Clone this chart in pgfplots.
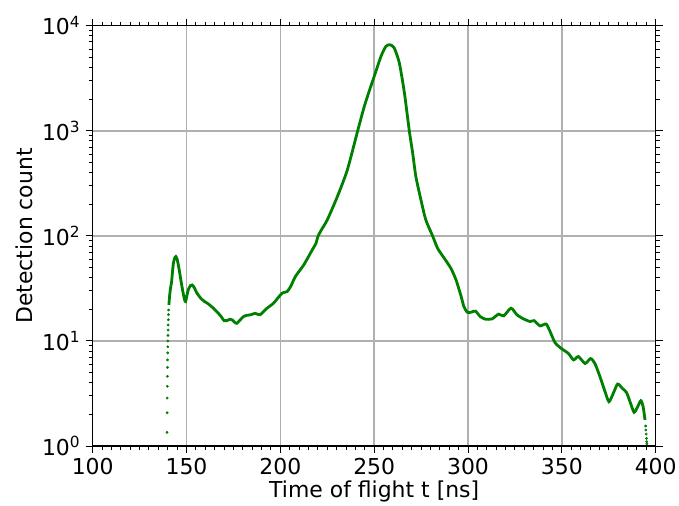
\documentclass[border=0pt]{standalone}
\usepackage{fontspec}
\setmainfont{DejaVu Sans}
\usepackage{pgfplots}
\pgfplotsset{compat=1.18}
\definecolor{mplgreen}{HTML}{008000}
\definecolor{gridgray}{HTML}{B0B0B0}
\begin{document}
\begin{tikzpicture}
\begin{axis}[
  scale only axis, width=563bp, height=420.3bp,
  xmin=100, xmax=400, ymode=log, ymin=1, ymax=10000,
  xtick={100,150,...,400}, minor x tick num=9,
  ytick={1,10,100,1000,10000},
  minor ytick={2,3,4,5,6,7,8,9,20,30,40,50,60,70,80,90,200,300,400,500,600,700,800,900,2000,3000,4000,5000,6000,7000,8000,9000},
  yticklabels={10\textsuperscript{0},10\textsuperscript{1},10\textsuperscript{2},10\textsuperscript{3},10\textsuperscript{4}},
  /pgf/number format/assume math mode=true,
  tick align=outside,
  major tick length=7bp, minor tick length=4bp,
  grid=major, major grid style={gridgray, line width=1.5bp},
  minor grid style={draw=none},
  axis line style={line width=1.2bp},
  every tick/.style={black, line width=1bp},
  tick label style={font=\fontsize{22}{26}\selectfont},
  label style={font=\fontsize{22}{26}\selectfont},
  xticklabel style={yshift=-2bp},
  yticklabel style={xshift=-2bp},
  xlabel={Time of flight t [ns]}, ylabel={Detection count},
  xlabel style={at={(axis description cs:0.5,-0.1237)}, anchor=base},
  ylabel style={at={(axis description cs:-0.1217,0.5)}, anchor=center, rotate=0},
  xticklabel style={/pgf/number format/set thousands separator={}},
]
\addplot[only marks, mark=*, mark size=1.2bp, mplgreen, mark options={draw=none, fill=mplgreen}] coordinates {
(139.6,1.35) (139.65,2.07) (139.7,2.86) (139.75,3.7) (139.8,4.6) (139.85,5.6)
(139.9,6.6) (139.95,7.7) (140.0,8.8) (140.05,10.0) (140.1,11.3) (140.15,12.7)
(140.2,14.2) (140.3,15.9) (140.35,17.8) (140.45,19.7)
(394.6,1.55) (394.8,1.42) (394.95,1.3) (395.1,1.18) (395.2,1.1) (395.3,1.05)
};
\addplot[mplgreen, line width=2.8bp, smooth, tension=0.4] coordinates {
(140.6,22) (141.0,27) (141.5,32) (142.0,36) (142.5,45) (143.0,55) (143.6,61)
(144.3,63.5) (145.0,60) (145.7,52) (146.4,44) (147.3,35) (148.2,28.5) (149.0,24.5)
(149.5,23.7) (150.2,27) (150.9,30.6) (152.0,33.5) (153.0,34.1) (154.2,32) (155.3,29)
(156.5,27) (158.0,25) (159.5,23.8) (161.6,22.5) (164.3,20.5) (167.0,18.3) (168.5,17)
(170.0,15.6) (171.5,15.6) (173.2,16.1) (174.5,15.8) (175.5,15.1) (176.8,14.7)
(178.5,15.8) (180.4,17.1) (182.0,17.5) (183.9,17.7) (186.6,18.3) (188.0,17.9)
(189.3,17.8) (191.0,19.0) (192.9,20.5) (196.4,22.9) (200.0,27.4) (201.5,28.8)
(203.6,29.5) (205.5,33) (208.0,41) (212.5,53) (217.0,73.6) (219.0,85) (220.0,98.6)
(222.0,115) (225.0,142) (230.4,237) (235.7,425) (241.2,1000) (244.7,1700)
(247.3,2370) (250.0,3290) (253.6,5100) (256.2,6350) (258.4,6590) (260.7,6130)
(263.4,4410) (266.1,2290) (268.7,1000) (270.5,614) (272.2,367) (274.9,220)
(277.5,142) (281.1,100) (283.8,76) (287.4,61) (290.9,49) (293.6,38.1) (296.2,27)
(297.8,21.2) (299.5,18.8) (300.7,18.6) (302.2,18.9) (304.0,19.2) (306.6,17.0)
(309.3,16.1) (312.8,16.2) (316.3,18.0) (319.0,17.3) (322.9,20.5) (326.1,17.7)
(329.6,16.2) (333.1,15.3) (335.2,15.6) (338.4,13.9) (341.6,14.5) (343.7,12.3)
(346.4,9.6) (350.0,8.4) (353.5,7.6) (356.2,6.6) (358.8,7.1) (362.4,6.1) (365.3,6.8)
(367.6,6.1) (370.3,4.57) (373.0,3.29) (375.1,2.64) (377.4,3.17) (379.7,3.89)
(382.2,3.54) (384.5,3.22) (386.6,2.55) (388.5,2.09) (390.4,2.37) (392.1,2.7)
(393.3,2.37) (394.3,1.77)
};
\end{axis}
\pgfresetboundingbox
\path[use as bounding box] ([shift={(-92.7bp,-60bp)}]current axis.south west) rectangle ([shift={(23.3bp,25.7bp)}]current axis.north east);
\end{tikzpicture}
\end{document}
